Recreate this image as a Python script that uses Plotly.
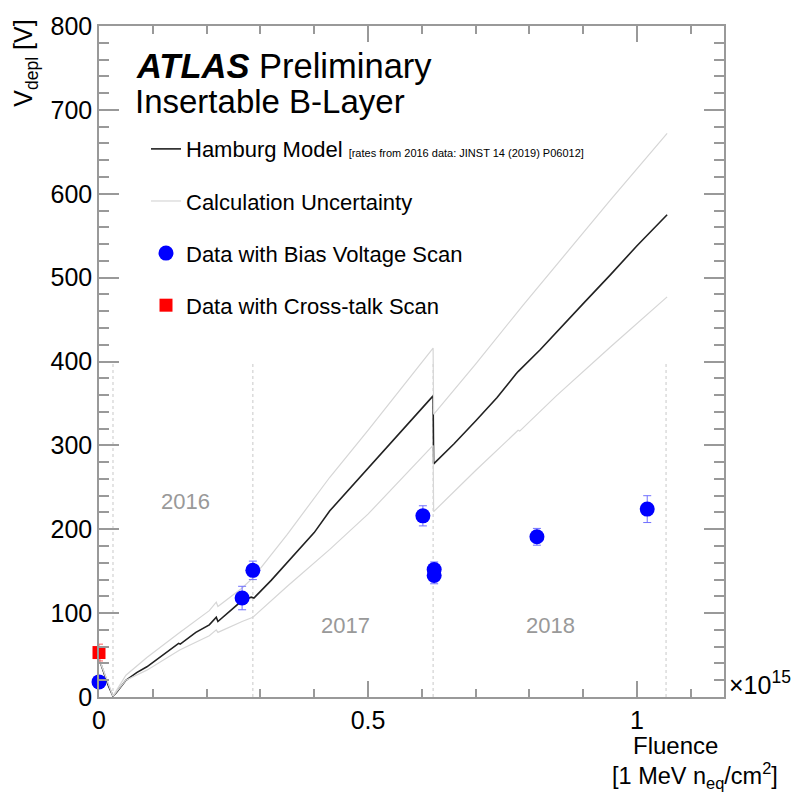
import plotly.graph_objects as go

# ---------------- data (fluence in units of 1e15 1 MeV neq/cm2) ----------------
model_x = [0.0, 0.008, 0.017, 0.026, 0.032, 0.05, 0.07, 0.089, 0.12, 0.148, 0.151, 0.18, 0.205, 0.218, 0.221,
           0.245, 0.266, 0.283, 0.288, 0.32, 0.36, 0.40, 0.429, 0.47, 0.51, 0.55, 0.59, 0.621,
           0.622, 0.66, 0.70, 0.74, 0.775, 0.779, 0.82, 0.86, 0.90, 0.95, 1.00, 1.056]
model_y = [46, 30, 14, 1, 5, 20, 29, 36, 51, 64, 63, 77, 86, 95, 90,
           103, 115, 119, 118, 139, 167, 196, 222, 251, 280, 308, 337, 359,
           278, 302, 329, 357, 385, 388, 414, 442, 469, 503, 538, 575]

unc_up_x = [0.0, 0.026, 0.05, 0.089, 0.15, 0.205, 0.218, 0.221, 0.266, 0.286, 0.35, 0.429, 0.50, 0.56, 0.621,
            0.622, 0.70, 0.788, 0.85, 0.95, 1.056]
unc_up_y = [46, 1, 26, 47, 77, 103, 113, 108, 130, 142, 194, 262, 318, 367, 416,
            337, 397, 467, 515, 592, 672]
unc_lo_x = [0.0, 0.026, 0.05, 0.089, 0.15, 0.205, 0.218, 0.221, 0.266, 0.286, 0.35, 0.429, 0.50, 0.56, 0.621,
            0.622, 0.70, 0.779, 0.782, 0.85, 0.95, 1.056]
unc_lo_y = [46, 1, 20, 32, 56, 73, 80, 77, 90, 95, 132, 176, 218, 259, 300,
            221, 270, 318, 317, 359, 417, 477]

bias_x = [0.0, 0.266, 0.286, 0.602, 0.623, 0.623, 0.814, 1.019]
bias_y = [18, 118, 151, 216, 152, 145, 191, 224]
bias_err = [5, 14, 11, 12, 9, 10, 10, 16]

xtalk_x = [0.0]
xtalk_y = [53]
xtalk_err = [10]

year_bounds = [0.026, 0.286, 0.621, 1.054]
year_line_top = 400
year_labels = ["2016", "2017", "2018"]
year_label_x = [0.16, 0.459, 0.84]
year_label_y = [233, 85, 85]

FONT = "Liberation Sans, Arial, Helvetica, sans-serif"

fig = go.Figure()

# year boundary lines
vx, vy = [], []
for b in year_bounds:
    vx += [b, b, None]
    vy += [0, year_line_top, None]
fig.add_trace(go.Scatter(x=vx, y=vy, mode="lines", line=dict(color="#c8c8c8", width=1, dash="dot"),
                         showlegend=False, hoverinfo="skip"))

fig.add_trace(go.Scatter(x=model_x, y=model_y, mode="lines", line=dict(color="#222222", width=1.6),
                         name="Hamburg Model <span style='font-size:11px'>[rates from 2016 data: JINST 14 (2019) P06012]</span>",
                         legendgroup="a", cliponaxis=False))
fig.add_trace(go.Scatter(x=unc_up_x + [None] + unc_lo_x, y=unc_up_y + [None] + unc_lo_y, mode="lines",
                         line=dict(color="#d6d6d6", width=1.2), name="Calculation Uncertainty",
                         legendgroup="b"))
fig.add_trace(go.Scatter(x=bias_x, y=bias_y, mode="markers",
                         marker=dict(color="#0000ff", size=15, symbol="circle"),
                         error_y=dict(type="data", array=bias_err, color="#7070ff", thickness=1, width=4),
                         name="Data with Bias Voltage Scan", legendgroup="c", cliponaxis=False))
fig.add_trace(go.Scatter(x=xtalk_x, y=xtalk_y, mode="markers",
                         marker=dict(color="#ff0000", size=13, symbol="square"),
                         error_y=dict(type="data", array=xtalk_err, color="#ff6060", thickness=1, width=4),
                         name="Data with Cross-talk Scan", legendgroup="d", cliponaxis=False))

L, R, T, B = 99, 724, 20, 697
W, H = 803, 794
def px(xp):
    return (xp - L) / (R - L)
def py(yp):
    return (B - yp) / (B - T)

ann = []
for t, x, y in zip(year_labels, year_label_x, year_label_y):
    ann.append(dict(x=x, y=y, xref="x", yref="y", text=t, showarrow=False,
                    font=dict(size=22, color="#999999", family=FONT)))
ann.append(dict(x=px(134), y=py(60), xref="paper", yref="paper", xanchor="left", yanchor="middle",
                text="<b><i>ATLAS</i></b> Preliminary", showarrow=False,
                font=dict(size=34.5, color="black", family=FONT)))
ann.append(dict(x=px(133), y=py(96), xref="paper", yref="paper", xanchor="left", yanchor="middle",
                text="Insertable B-Layer", showarrow=False,
                font=dict(size=33, color="black", family=FONT)))
ann.append(dict(x=px(727), y=py(683), xref="paper", yref="paper", xanchor="left", yanchor="middle",
                text="×10<sup>15</sup>", showarrow=False,
                font=dict(size=25, color="black", family=FONT)))
ann.append(dict(x=px(720), y=py(746), xref="paper", yref="paper", xanchor="right", yanchor="middle",
                text="Fluence", showarrow=False, font=dict(size=24, color="black", family=FONT)))
ann.append(dict(x=px(780), y=py(776), xref="paper", yref="paper", xanchor="right", yanchor="middle",
                text="[1 MeV n<sub>eq</sub>/cm<sup>2</sup>]", showarrow=False,
                font=dict(size=23.5, color="black", family=FONT)))
ann.append(dict(x=px(25), y=py(58), xref="paper", yref="paper", xanchor="center", yanchor="middle",
                text="V<sub>depl</sub> [V]", textangle=-90, showarrow=False,
                font=dict(size=25, color="black", family=FONT)))

axcol = "#999999"
fig.update_layout(
    width=W, height=H,
    margin=dict(l=L, r=W - R, t=T, b=H - B),
    paper_bgcolor="white", plot_bgcolor="white",
    font=dict(family=FONT, color="black"),
    showlegend=True,
    legend=dict(x=px(146), y=py(123), xanchor="left", yanchor="top",
                bgcolor="rgba(0,0,0,0)", font=dict(size=22, family=FONT, color="black"),
                tracegroupgap=20.5, itemwidth=30),
    annotations=ann,
    xaxis=dict(range=[0, (R - L) / 538.0], tickvals=[0, 0.5, 1], ticktext=["0", "0.5", "1"],
               ticks="inside", ticklen=16, tickcolor=axcol, tickwidth=1.5,
               minor=dict(dtick=0.1, ticks="inside", ticklen=8, tickcolor=axcol, tickwidth=1.5),
               showline=True, linecolor=axcol, linewidth=1.5, mirror="ticks",
               showgrid=False, zeroline=False, tickfont=dict(size=25, family=FONT, color="black")),
    yaxis=dict(range=[0, 800], dtick=100, tick0=0,
               ticks="inside", ticklen=20, tickcolor=axcol, tickwidth=1.5,
               minor=dict(dtick=20, ticks="inside", ticklen=10, tickcolor=axcol, tickwidth=1.5),
               showline=True, linecolor=axcol, linewidth=1.5, mirror="ticks",
               showgrid=False, zeroline=False, tickfont=dict(size=25, family=FONT, color="black")),
)

fig.write_html("out.html")
